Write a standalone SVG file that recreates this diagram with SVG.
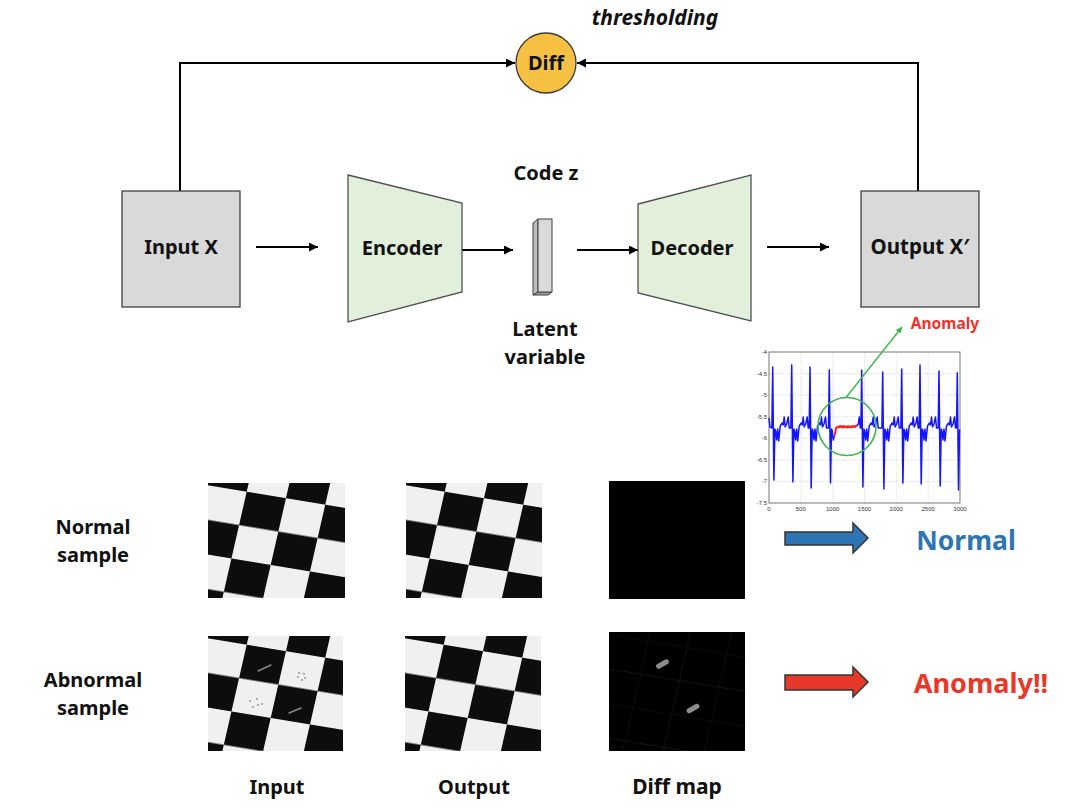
<svg xmlns="http://www.w3.org/2000/svg" width="1068" height="812" viewBox="0 0 1068 812">
<style>
  .t{font-family:"Noto Sans","Open Sans","Liberation Sans",sans-serif;font-weight:bold;fill:#111;text-anchor:middle}
  .f20{font-size:20px}
  .conn{fill:none;stroke:#000;stroke-width:2}
  .box{fill:#d9d9d9;stroke:#404040;stroke-width:1.3}
  .trap{fill:#e2efda;stroke:#505050;stroke-width:1.3}
  .tick{font-family:"Liberation Sans",sans-serif;font-size:6px;fill:#333}
  .grid{stroke:#c8c8c8;stroke-width:0.6;stroke-dasharray:1 1}
</style>
<defs>
  <marker id="ah" viewBox="0 0 10 10" refX="10" refY="5" markerWidth="10" markerHeight="9" markerUnits="userSpaceOnUse" orient="auto">
    <path d="M0,0 L10,5 L0,10 z" fill="#000"/>
  </marker>
  <marker id="ahg" viewBox="0 0 10 10" refX="10" refY="5" markerWidth="7" markerHeight="6" markerUnits="userSpaceOnUse" orient="auto">
    <path d="M0,0 L10,5 L0,10 z" fill="#3cb54a"/>
  </marker>
  <pattern id="checker" patternUnits="userSpaceOnUse" width="80" height="80" patternTransform="translate(38.7,8.7) scale(1,0.85) rotate(11)">
    <rect width="80" height="80" fill="#f0f0f0"/>
    <rect x="0" y="0" width="40" height="40" fill="#080808"/>
    <rect x="40" y="40" width="40" height="40" fill="#080808"/>
  </pattern>
  <pattern id="faint" patternUnits="userSpaceOnUse" width="80" height="80" patternTransform="translate(38.7,8.7) scale(1,0.85) rotate(11)">
    <path d="M0,0 V80 M40,0 V80 M0,0 H80 M0,40 H80" stroke="#262626" stroke-width="1" fill="none"/>
  </pattern>
  <filter id="soft" x="-5%" y="-5%" width="110%" height="110%">
    <feGaussianBlur stdDeviation="0.6"/>
  </filter>
</defs>
<rect width="1068" height="812" fill="#fff"/>

<g id="connectors">
  <path class="conn" d="M180,191 V63 H515" marker-end="url(#ah)"/>
  <path class="conn" d="M918,191 V63 H577" marker-end="url(#ah)"/>
  <line class="conn" x1="256" y1="247" x2="318" y2="247" marker-end="url(#ah)"/>
  <line class="conn" x1="462" y1="250" x2="513" y2="250" marker-end="url(#ah)"/>
  <line class="conn" x1="577" y1="250" x2="638" y2="250" marker-end="url(#ah)"/>
  <line class="conn" x1="767" y1="247" x2="829" y2="247" marker-end="url(#ah)"/>
</g>

<g id="diff">
  <circle cx="546" cy="63" r="30" fill="#f6c142" stroke="#3a3a3a" stroke-width="1.3"/>
  <text class="t f20" x="546" y="70">Diff</text>
</g>
<text id="thresholding" class="t" x="655" y="25" font-size="21" font-style="italic">thresholding</text>

<g id="input">
  <rect class="box" x="122" y="191" width="118" height="116"/>
  <text class="t f20" x="181" y="254">Input X</text>
</g>
<g id="encoder">
  <polygon class="trap" points="348,175 462,203 462,292 348,322"/>
  <text class="t f20" x="402" y="255">Encoder</text>
</g>
<g id="codez">
  <text class="t f20" x="546" y="180">Code z</text>
  <polygon points="533,223 538,219 538,292 533,295" fill="#bcbcbc" stroke="#404040" stroke-width="1"/>
  <polygon points="533,295 538,292 552,292 548,295" fill="#a0a0a0" stroke="#404040" stroke-width="1"/>
  <rect x="538" y="219" width="14" height="73" fill="#dadada" stroke="#404040" stroke-width="1"/>
  <text class="t f20" x="545" y="336">Latent<tspan x="545" dy="27.5">variable</tspan></text>
</g>
<g id="decoder">
  <polygon class="trap" points="638,204 751,175 751,321 638,293"/>
  <text class="t f20" x="692" y="255">Decoder</text>
</g>
<g id="output">
  <rect class="box" x="861" y="191" width="118" height="116"/>
  <text class="t" x="920" y="254" font-size="20.5">Output X′</text>
</g>

<g id="chart">
  <rect x="745" y="345" width="222" height="172" fill="#fff"/>
  <g class="grid">
    <line x1="769" y1="373.6" x2="960" y2="373.6"/>
    <line x1="769" y1="395.1" x2="960" y2="395.1"/>
    <line x1="769" y1="416.7" x2="960" y2="416.7"/>
    <line x1="769" y1="438.3" x2="960" y2="438.3"/>
    <line x1="769" y1="459.9" x2="960" y2="459.9"/>
    <line x1="769" y1="481.4" x2="960" y2="481.4"/>
    <line x1="800.8" y1="352" x2="800.8" y2="503"/>
    <line x1="832.7" y1="352" x2="832.7" y2="503"/>
    <line x1="864.5" y1="352" x2="864.5" y2="503"/>
    <line x1="896.3" y1="352" x2="896.3" y2="503"/>
    <line x1="928.2" y1="352" x2="928.2" y2="503"/>
  </g>
  <rect x="769" y="352" width="191" height="151" fill="none" stroke="#555" stroke-width="0.8"/>
  <g class="tick" text-anchor="end">
    <text x="767" y="354">-4</text>
    <text x="767" y="375.6">-4.5</text>
    <text x="767" y="397.1">-5</text>
    <text x="767" y="418.7">-5.5</text>
    <text x="767" y="440.3">-6</text>
    <text x="767" y="461.9">-6.5</text>
    <text x="767" y="483.4">-7</text>
    <text x="767" y="505">-7.5</text>
  </g>
  <g class="tick" text-anchor="middle">
    <text x="769" y="511">0</text>
    <text x="800.8" y="511">500</text>
    <text x="832.7" y="511">1000</text>
    <text x="864.5" y="511">1500</text>
    <text x="896.3" y="511">2000</text>
    <text x="928.2" y="511">2500</text>
    <text x="960" y="511">3000</text>
  </g>
  <path fill="none" stroke="#1414ff" stroke-width="1.5" stroke-linejoin="round" d="M769,418 L770,427 L771.9,428 L772.7,367 L773.9,480 L774.9,429 L775.7,431 L776.7,440 L777.7,429 L778.7,441 L780.2,426 L782.2,423 L783.2,425 L784.2,417 L785.2,427 L786.7,424 L788.2,417 L789.2,428 L790.9,428 L791.7,365 L792.9,482 L793.9,429 L794.7,431 L795.7,440 L796.7,429 L797.7,441 L799.2,426 L801.2,423 L802.2,425 L803.2,417 L804.2,427 L805.7,424 L807.2,417 L808.2,428 L809.2,428 L810,367 L811.2,488 L812.2,429 L813,431 L814,440 L815,429 L816,441 L817.5,426 L819.5,423 L820.5,425 L821.5,417 L822.5,427 L824,424 L825.5,417 L826.5,428 L828.5,428 L829.3,370 L830.5,483 L831.5,429 L832.3,431 L833.3,440 L834.3,436 M857,426 L858.3,424 L859.3,417 L860.3,428 L860.9,428 L861.7,370 L862.9,487 L863.9,429 L864.7,431 L865.7,440 L866.7,429 L867.7,441 L869.2,426 L871.2,423 L872.2,425 L873.2,417 L874.2,427 L875.7,424 L877.2,417 L878.2,428 L881.9,428 L882.7,372 L883.9,489 L884.9,429 L885.7,431 L886.7,440 L887.7,429 L888.7,441 L890.2,426 L892.2,423 L893.2,425 L894.2,417 L895.2,427 L896.7,424 L898.2,417 L899.2,428 L900.9,428 L901.7,369 L902.9,483 L903.9,429 L904.7,431 L905.7,440 L906.7,429 L907.7,441 L909.2,426 L911.2,423 L912.2,425 L913.2,417 L914.2,427 L915.7,424 L917.2,417 L918.2,428 L919.2,428 L920,365 L921.2,484 L922.2,429 L923,431 L924,440 L925,429 L926,441 L927.5,426 L929.5,423 L930.5,425 L931.5,417 L932.5,427 L934,424 L935.5,417 L936.5,428 L938.2,428 L939,371 L940.2,486 L941.2,429 L942,431 L943,440 L944,429 L945,441 L946.5,426 L948.5,423 L949.5,425 L950.5,417 L951.5,427 L953,424 L954.5,417 L955.5,428 L956.5,428 L957.3,372.7 L958.5,490 L959.5,430 L960,431"/>
  <path fill="none" stroke="#ff2020" stroke-width="2" stroke-linejoin="round" d="M834.3,436 L835,434 L836,428 L837,427.5 L838,426.5 L839,427.5 L840,426 L841,427 L842,426 L843,427.5 L844,426 L845,427 L846,426.5 L847,427.5 L848,426 L849,427 L850,426.5 L851,427.5 L852,426 L853,427 L854,426 L855,427 L856,426 L857,425"/>
  <circle cx="847" cy="426.5" r="29" fill="none" stroke="#3cb54a" stroke-width="1.6"/>
  <line x1="846" y1="397.5" x2="902" y2="327" stroke="#3cb54a" stroke-width="1.4" marker-end="url(#ahg)"/>
  <text x="945" y="329" font-family="'Noto Sans','Open Sans',sans-serif" font-weight="bold" font-size="15.5" fill="#f03228" text-anchor="middle">Anomaly</text>
</g>

<g id="row-labels">
  <text class="t f20" x="93" y="534">Normal<tspan x="93" dy="27.5">sample</tspan></text>
  <text class="t f20" x="93" y="687">Abnormal<tspan x="93" dy="27.5">sample</tspan></text>
</g>
<g id="col-labels">
  <text class="t f20" x="277" y="794">Input</text>
  <text class="t f20" x="474" y="794">Output</text>
  <text class="t" x="677" y="794" font-size="21">Diff map</text>
</g>

<g id="normal-input" transform="translate(208,483)">
  <rect width="137" height="115" fill="url(#checker)" filter="url(#soft)"/>
</g>
<g id="normal-output" transform="translate(406,483)">
  <rect width="136" height="115" fill="url(#checker)" filter="url(#soft)"/>
</g>
<g id="normal-diff" transform="translate(609,481)">
  <rect width="136" height="118" fill="#000"/>
</g>
<g id="abnormal-input" transform="translate(208,636)">
  <rect width="135" height="115" fill="url(#checker)" filter="url(#soft)"/>
  <g stroke="#8a8a8a" stroke-width="1.4" stroke-linecap="round">
    <line x1="50" y1="35" x2="63" y2="29"/>
    <line x1="81" y1="77" x2="93" y2="72"/>
  </g>
  <g fill="#909090">
    <circle cx="91" cy="37" r="0.9"/><circle cx="96" cy="38" r="0.9"/><circle cx="90" cy="41" r="0.9"/><circle cx="97" cy="42" r="0.9"/><circle cx="94" cy="44" r="0.9"/>
    <circle cx="42" cy="65" r="0.9"/><circle cx="49" cy="63" r="0.9"/><circle cx="45" cy="71" r="0.9"/><circle cx="50" cy="69" r="0.9"/><circle cx="54" cy="68" r="0.9"/>
  </g>
</g>
<g id="abnormal-output" transform="translate(405,636)">
  <rect width="136" height="115" fill="url(#checker)" filter="url(#soft)"/>
</g>
<g id="abnormal-diff" transform="translate(609,632)">
  <rect width="136" height="119" fill="#000"/>
  <rect width="136" height="119" fill="url(#faint)" opacity="0.55"/>
  <g fill="#8c8c8c" filter="url(#soft)">
    <rect x="46.5" y="29.5" width="14" height="5" rx="2.5" transform="rotate(-30 53.5 32)"/>
    <rect x="77" y="74" width="14" height="5" rx="2.5" transform="rotate(-30 84 76.5)"/>
  </g>
</g>

<g id="normal-result">
  <polygon points="785,532 853,532 853,523 868,538 853,553 853,545 785,545" fill="#2e75b6" stroke="#333" stroke-width="1.5" stroke-linejoin="miter"/>
  <text x="966" y="550" font-family="'Noto Sans','Open Sans',sans-serif" font-weight="bold" font-size="26.5" fill="#2e75b6" text-anchor="middle">Normal</text>
</g>
<g id="anomaly-result">
  <polygon points="785,675 853,675 853,667 868,682 853,697 853,690 785,690" fill="#e8382a" stroke="#333" stroke-width="1.5" stroke-linejoin="miter"/>
  <text x="981" y="693" font-family="'Noto Sans','Open Sans',sans-serif" font-weight="bold" font-size="27" fill="#e8382a" text-anchor="middle">Anomaly!!</text>
</g>
</svg>
